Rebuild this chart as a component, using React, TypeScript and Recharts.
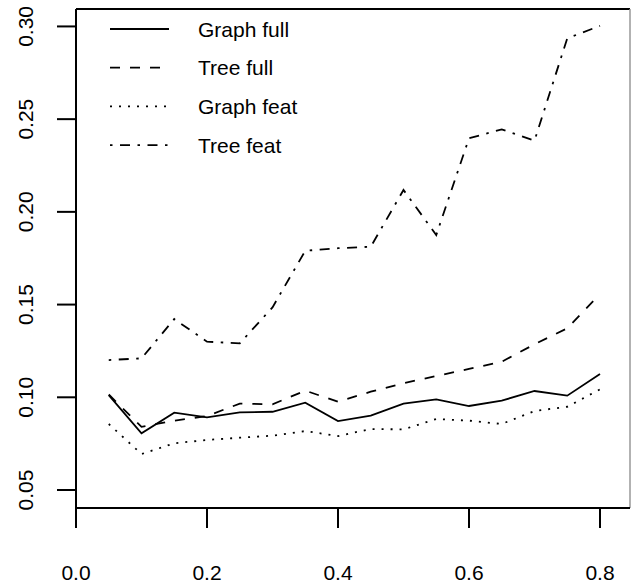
import React from "react";
import { LineChart, Line, XAxis, YAxis, ReferenceLine } from "recharts";

const xValues = [0.05, 0.1, 0.15, 0.2, 0.25, 0.3, 0.35, 0.4, 0.45, 0.5, 0.55, 0.6, 0.65, 0.7, 0.75, 0.8];
const graphFull = [0.1012, 0.0806, 0.0917, 0.0892, 0.0919, 0.0922, 0.0971, 0.0872, 0.0901, 0.0966, 0.0989, 0.0953, 0.0982, 0.1034, 0.1009, 0.1126];
const treeFull = [0.1015, 0.0841, 0.0874, 0.0899, 0.0966, 0.0962, 0.1036, 0.0976, 0.103, 0.1076, 0.1115, 0.1153, 0.1192, 0.1286, 0.1372, 0.1557];
const graphFeat = [0.0856, 0.0694, 0.0752, 0.077, 0.0782, 0.0793, 0.0818, 0.0791, 0.0829, 0.0827, 0.0883, 0.0874, 0.0856, 0.0926, 0.0949, 0.1043];
const treeFeat = [0.1201, 0.121, 0.1422, 0.13, 0.1291, 0.1485, 0.179, 0.1804, 0.1812, 0.2118, 0.1875, 0.2397, 0.2445, 0.2384, 0.2936, 0.3003];

const xTicks = [0, 0.2, 0.4, 0.6, 0.8];
const yTicks = [0.05, 0.1, 0.15, 0.2, 0.25, 0.3];
const xTickLabels = ["0.0", "0.2", "0.4", "0.6", "0.8"];
const yTickLabels = ["0.05", "0.10", "0.15", "0.20", "0.25", "0.30"];

const seriesNames = ["Graph full", "Tree full", "Graph feat", "Tree feat"];
const seriesKeys = ["graphFull", "treeFull", "graphFeat", "treeFeat"];
const dashes = ["", "10 10", "2 7", "2.5 7.5 10 7.5"];

const X_MAX = 0.8458;
const Y_MIN = 0.0403;
const Y_MAX = 0.3094;

const data = xValues.map((x, i) => ({
  x,
  graphFull: graphFull[i],
  treeFull: treeFull[i],
  graphFeat: graphFeat[i],
  treeFeat: treeFeat[i],
}));

const FONT = "'Liberation Sans', Arial, Helvetica, sans-serif";

const XTick = (props: any) => {
  const { x, y, payload } = props;
  const idx = xTicks.indexOf(payload.value);
  return (
    <text x={x} y={y + 35} dy="0.71em" textAnchor="middle" fontFamily={FONT} fontSize={21} fill="#000">
      {idx >= 0 ? xTickLabels[idx] : payload.value}
    </text>
  );
};

const YTick = (props: any) => {
  const { y, payload } = props;
  const idx = yTicks.findIndex((t) => Math.abs(t - payload.value) < 1e-9);
  const cx = 33;
  return (
    <text x={cx} y={y} transform={`rotate(-90, ${cx}, ${y})`} textAnchor="middle" fontFamily={FONT} fontSize={21} fill="#000">
      {idx >= 0 ? yTickLabels[idx] : payload.value}
    </text>
  );
};

const LegendOverlay = () => (
  <svg width={320} height={170} style={{ position: "absolute", left: 0, top: 0, overflow: "visible", pointerEvents: "none" }}>
    {seriesNames.map((name, i) => {
      const cy = 29 + i * 38.7;
      return (
        <g key={name}>
          <line x1={110} x2={169} y1={cy} y2={cy} stroke="#000" strokeWidth={1.8} strokeDasharray={dashes[i] || undefined} />
          <text x={198} y={cy} dy="0.36em" fontFamily={FONT} fontSize={21} fill="#000">
            {name}
          </text>
        </g>
      );
    })}
  </svg>
);

export default function App() {
  return (
    <div style={{ position: "absolute", left: 0, top: 0, width: 632, height: 582, background: "#fff" }}>
      <LineChart width={632} height={582} data={data} margin={{ top: 9, right: 2, bottom: 0, left: 0 }}>
        <XAxis
          dataKey="x"
          type="number"
          domain={[0, X_MAX]}
          ticks={xTicks}
          allowDataOverflow
          height={74}
          tickSize={20}
          tick={<XTick />}
          axisLine={{ stroke: "#000", strokeWidth: 2 }}
          tickLine={{ stroke: "#000", strokeWidth: 2 }}
        />
        <YAxis
          type="number"
          domain={[Y_MIN, Y_MAX]}
          ticks={yTicks}
          allowDataOverflow
          width={76}
          tickSize={19}
          tick={<YTick />}
          axisLine={{ stroke: "#000", strokeWidth: 2 }}
          tickLine={{ stroke: "#000", strokeWidth: 2 }}
        />
        <ReferenceLine y={Y_MAX} stroke="#000" strokeWidth={2} />
        <ReferenceLine x={X_MAX} stroke="#999" strokeWidth={1.5} />
        {seriesKeys.map((k, i) => (
          <Line
            key={k}
            dataKey={k}
            name={seriesNames[i]}
            stroke="#000"
            strokeWidth={1.8}
            strokeDasharray={dashes[i] || undefined}
            dot={false}
            activeDot={false}
            isAnimationActive={false}
            type="linear"
          />
        ))}
      </LineChart>
      <LegendOverlay />
    </div>
  );
}
